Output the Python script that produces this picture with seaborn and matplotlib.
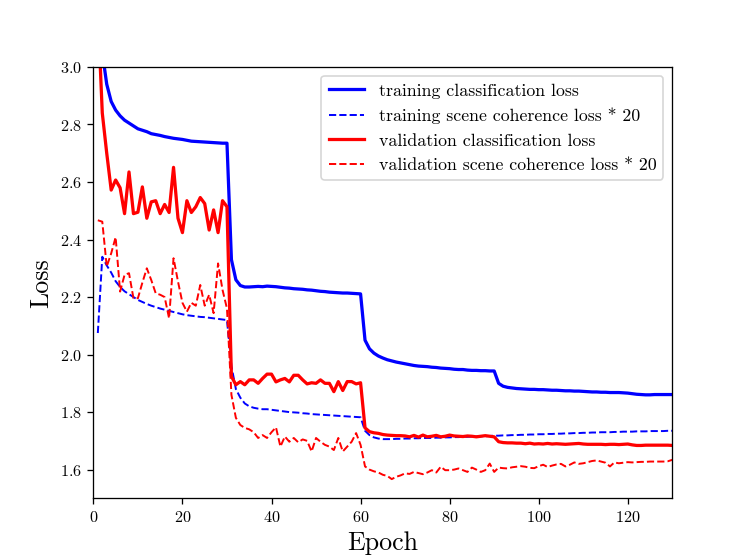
import seaborn as sns
import pandas as pd
import numpy as np
import matplotlib
matplotlib.use('Agg')
import matplotlib.pyplot as plt

plt.rcParams['font.family'] = 'serif'
plt.rcParams['font.serif'] = ['cmr10', 'DejaVu Serif']
plt.rcParams['mathtext.fontset'] = 'cm'
plt.rcParams['axes.formatter.use_mathtext'] = True

epochs = list(range(1, 131))

train_cls = [
    3.30, 3.05, 2.94, 2.88, 2.85, 2.83, 2.815, 2.805, 2.795, 2.785,
    2.78, 2.775, 2.768, 2.765, 2.762, 2.758, 2.755, 2.752, 2.75, 2.748,
    2.745, 2.742, 2.741, 2.74, 2.739, 2.738, 2.737, 2.736, 2.735, 2.735,
    2.33, 2.26, 2.24, 2.235, 2.235, 2.236, 2.237, 2.236, 2.238, 2.237,
    2.236, 2.234, 2.232, 2.231, 2.229, 2.228, 2.227, 2.225, 2.224, 2.222,
    2.22, 2.219, 2.217, 2.216, 2.215, 2.214, 2.214, 2.213, 2.212, 2.211,
    2.05, 2.02, 2.005, 1.995, 1.988, 1.982, 1.978, 1.974, 1.971, 1.968,
    1.965, 1.962, 1.96, 1.959, 1.958, 1.956, 1.955, 1.953, 1.952, 1.951,
    1.949, 1.948, 1.948, 1.946, 1.945, 1.945, 1.944, 1.944, 1.943, 1.943,
    1.90, 1.89, 1.886, 1.884, 1.882, 1.881, 1.88, 1.879, 1.879, 1.878,
    1.878, 1.877, 1.876, 1.876, 1.875, 1.874, 1.874, 1.873, 1.873, 1.872,
    1.871, 1.87, 1.87, 1.869, 1.869, 1.868, 1.868, 1.868, 1.867, 1.866,
    1.864, 1.862, 1.861, 1.86, 1.86, 1.861, 1.861, 1.861, 1.861, 1.861,
]

train_sc = [
    2.075, 2.34, 2.31, 2.285, 2.255, 2.235, 2.22, 2.21, 2.2, 2.19,
    2.183, 2.176, 2.17, 2.165, 2.16, 2.156, 2.152, 2.148, 2.144, 2.14,
    2.137, 2.135, 2.133, 2.131, 2.13, 2.128, 2.126, 2.124, 2.122, 2.12,
    1.96, 1.88, 1.85, 1.83, 1.82, 1.815, 1.812, 1.81, 1.81, 1.808,
    1.806, 1.804, 1.802, 1.8, 1.799, 1.798, 1.796, 1.795, 1.793, 1.792,
    1.791, 1.79, 1.789, 1.788, 1.787, 1.786, 1.785, 1.784, 1.783, 1.782,
    1.735, 1.72, 1.712, 1.708, 1.706, 1.706, 1.706, 1.707, 1.707, 1.708,
    1.708, 1.709, 1.709, 1.71, 1.71, 1.71, 1.711, 1.711, 1.712, 1.712,
    1.713, 1.713, 1.714, 1.714, 1.715, 1.715, 1.716, 1.716, 1.717, 1.718,
    1.718, 1.719, 1.719, 1.72, 1.72, 1.721, 1.721, 1.722, 1.722, 1.723,
    1.723, 1.724, 1.724, 1.725, 1.725, 1.726, 1.726, 1.727, 1.727, 1.728,
    1.728, 1.729, 1.729, 1.73, 1.73, 1.73, 1.731, 1.731, 1.732, 1.732,
    1.732, 1.733, 1.733, 1.733, 1.734, 1.734, 1.734, 1.734, 1.735, 1.735,
]

val_cls = [
    3.20, 2.84, 2.70, 2.572, 2.607, 2.58, 2.49, 2.635, 2.49, 2.495,
    2.583, 2.474, 2.531, 2.535, 2.49, 2.522, 2.494, 2.651, 2.474, 2.424,
    2.535, 2.494, 2.514, 2.546, 2.525, 2.433, 2.503, 2.424, 2.535, 2.514,
    1.924, 1.895, 1.906, 1.895, 1.912, 1.912, 1.90, 1.917, 1.932, 1.932,
    1.905, 1.912, 1.917, 1.905, 1.928, 1.928, 1.912, 1.898, 1.902, 1.90,
    1.912, 1.90, 1.90, 1.871, 1.906, 1.875, 1.906, 1.906, 1.898, 1.902,
    1.745, 1.732, 1.728, 1.726, 1.722, 1.72, 1.719, 1.718, 1.718, 1.717,
    1.714, 1.719, 1.713, 1.72, 1.714, 1.716, 1.719, 1.714, 1.716, 1.72,
    1.717, 1.716, 1.715, 1.717, 1.716, 1.714, 1.716, 1.718, 1.716, 1.714,
    1.697, 1.694, 1.693, 1.693, 1.692, 1.692, 1.69, 1.692, 1.689, 1.69,
    1.689, 1.691, 1.689, 1.69, 1.689, 1.688, 1.689, 1.69, 1.691, 1.689,
    1.688, 1.688, 1.688, 1.688, 1.687, 1.688, 1.688, 1.687, 1.688, 1.689,
    1.686, 1.684, 1.684, 1.685, 1.685, 1.685, 1.685, 1.685, 1.685, 1.684,
]

val_sc = [
    2.467, 2.462, 2.306, 2.352, 2.408, 2.219, 2.277, 2.283, 2.196, 2.196,
    2.25, 2.30, 2.259, 2.213, 2.208, 2.20, 2.126, 2.335, 2.254, 2.18,
    2.149, 2.18, 2.17, 2.242, 2.17, 2.208, 2.144, 2.317, 2.225, 2.16,
    1.86, 1.78, 1.755, 1.745, 1.74, 1.73, 1.71, 1.72, 1.71, 1.73,
    1.747, 1.68, 1.715, 1.697, 1.71, 1.695, 1.705, 1.70, 1.663, 1.71,
    1.697, 1.686, 1.68, 1.668, 1.71, 1.663, 1.68, 1.697, 1.727, 1.686,
    1.611, 1.60, 1.594, 1.59, 1.582, 1.578, 1.567, 1.575, 1.58, 1.587,
    1.585, 1.592, 1.588, 1.584, 1.59, 1.598, 1.59, 1.61, 1.598, 1.598,
    1.60, 1.604, 1.598, 1.592, 1.607, 1.6, 1.592, 1.598, 1.621, 1.592,
    1.607, 1.605, 1.604, 1.608, 1.61, 1.612, 1.61, 1.606, 1.605, 1.612,
    1.617, 1.609, 1.614, 1.618, 1.62, 1.611, 1.617, 1.625, 1.62, 1.622,
    1.626, 1.63, 1.632, 1.628, 1.624, 1.611, 1.625, 1.622, 1.624, 1.626,
    1.625, 1.626, 1.627, 1.627, 1.628, 1.628, 1.628, 1.628, 1.629, 1.634,
]

fig, ax = plt.subplots(figsize=(6.4, 4.8), dpi=116.72)

sns.lineplot(x=epochs, y=train_cls, color='blue', linewidth=2,
             label='training classification loss', ax=ax)
sns.lineplot(x=epochs, y=train_sc, color='blue', linewidth=1.2, linestyle='--',
             label='training scene coherence loss * 20', ax=ax)
sns.lineplot(x=epochs, y=val_cls, color='red', linewidth=2,
             label='validation classification loss', ax=ax)
sns.lineplot(x=epochs, y=val_sc, color='red', linewidth=1.2, linestyle='--',
             label='validation scene coherence loss * 20', ax=ax)

ax.set_xlim(0, 130)
ax.set_ylim(1.5, 3.0)
ax.set_xticks([0, 20, 40, 60, 80, 100, 120])
ax.set_yticks([1.6, 1.8, 2.0, 2.2, 2.4, 2.6, 2.8, 3.0])
ax.set_xlabel('Epoch', fontsize=16)
ax.set_ylabel('Loss', fontsize=16)
ax.legend(loc='upper right', fontsize=11)

plt.savefig('out.png', dpi=116.72)
